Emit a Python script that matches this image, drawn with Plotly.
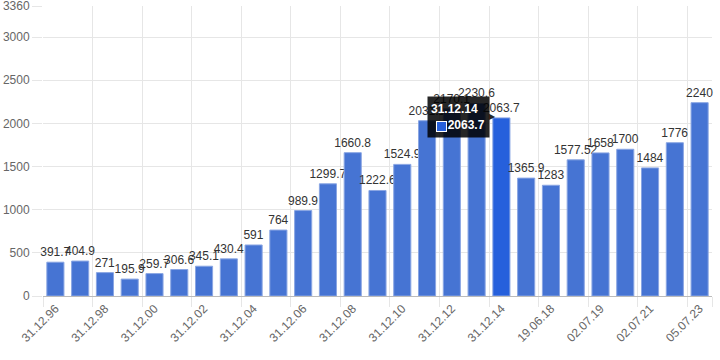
import plotly.graph_objects as go

categories = ["31.12.96", "31.12.97", "31.12.98", "31.12.99", "31.12.00", "31.12.01",
              "31.12.02", "31.12.03", "31.12.04", "31.12.05", "31.12.06", "31.12.07",
              "31.12.08", "31.12.09", "31.12.10", "31.12.11", "31.12.12", "31.12.13",
              "31.12.14", "31.12.16", "19.06.18", "31.12.18", "02.07.19", "02.07.20",
              "02.07.21", "02.07.22", "05.07.23"]
values = [391.7, 404.9, 271, 195.9, 259.7, 306.6, 345.1, 430.4, 591, 764, 989.9, 1299.7,
          1660.8, 1222.6, 1524.9, 2031.1, 2170.1, 2230.6, 2063.7, 1365.9, 1283, 1577.52,
          1658, 1700, 1484, 1776, 2240]
value_labels = ["391.7", "404.9", "271", "195.9", "259.7", "306.6", "345.1", "430.4", "591",
                "764", "989.9", "1299.7", "1660.8", "1222.6", "1524.9", "2031.1", "2170.1",
                "2230.6", "2063.7", "1365.9", "1283", "1577.52", "1658", "1700", "1484",
                "1776", "2240"]
y_ticks = [0, 500, 1000, 1500, 2000, 2500, 3000, 3360]
highlight_index = 18

idx = list(range(len(categories)))
base_color = "#4674d3"
hi_color = "#2660dc"
colors = [hi_color if i == highlight_index else base_color for i in idx]
FONT = "Liberation Sans, Arial, sans-serif"

fig = go.Figure()
fig.add_trace(go.Bar(
    x=idx, y=values,
    marker=dict(color=colors, line=dict(color="#8aa6e3", width=1)),
    text=value_labels, textposition="outside", constraintext="none",
    textfont=dict(family=FONT, size=12, color="#333333"),
    cliponaxis=False, hoverinfo="skip",
))

label_idx = idx[::2]
fig.update_layout(
    width=720, height=360,
    margin=dict(l=43, r=8, t=6, b=64, autoexpand=False),
    paper_bgcolor="white", plot_bgcolor="white",
    bargap=0.31, showlegend=False,
    font=dict(family=FONT, size=12, color="#666666"),
    xaxis=dict(
        range=[-0.5, len(categories) - 0.5], automargin=False,
        tickmode="array", tickvals=label_idx, ticktext=[categories[i] for i in label_idx],
        tickangle=-45, showgrid=False, ticks="", zeroline=False,
        showline=True, linecolor="#bbbbbb", linewidth=1,
        tickfont=dict(size=12, color="#666666"),
        minor=dict(tickmode="array", tickvals=[i - 0.5 for i in label_idx] + [len(categories) - 0.5],
                   showgrid=True, gridcolor="#e6e6e6", gridwidth=1,
                   ticks="outside", ticklen=10, tickcolor="#e6e6e6"),
    ),
    yaxis=dict(
        range=[0, 3360], automargin=False, tickmode="array", tickvals=y_ticks,
        showgrid=True, gridcolor="#e6e6e6", gridwidth=1, zeroline=False,
        ticks="outside", ticklen=10, tickcolor="#e6e6e6", ticklabeloverflow="allow",
        tickfont=dict(size=12, color="#666666"), showline=False,
    ),
)

# tooltip box
fig.add_annotation(
    x=highlight_index, y=values[highlight_index], xref="x", yref="y",
    xanchor="right", yanchor="middle", xshift=-11, yshift=1,
    showarrow=False, align="left", valign="middle", width=55, height=34,
    text=("<b>" + categories[highlight_index] + "</b><br>"
          + "\u00a0\u00a0\u00a0\u00a0\u00a0<b>" + value_labels[highlight_index] + "</b>"),
    font=dict(family=FONT, size=12, color="white"),
    bgcolor="rgba(0,0,0,0.85)", borderpad=3, bordercolor="rgba(0,0,0,0)",
)
# tooltip caret
fig.add_annotation(
    x=highlight_index, y=values[highlight_index], xref="x", yref="y",
    xanchor="center", yanchor="middle", xshift=-9, yshift=1,
    showarrow=False, text="▶", font=dict(family="DejaVu Sans", size=8, color="rgba(0,0,0,0.85)"),
)
# tooltip colour swatch
fig.add_annotation(
    x=highlight_index, y=values[highlight_index], xref="x", yref="y",
    xanchor="center", yanchor="middle", xshift=-60, yshift=-9,
    showarrow=False, text=" ", width=9, height=9, borderpad=0,
    font=dict(size=6), bgcolor=hi_color, bordercolor="white", borderwidth=1,
)

fig.write_html("out.html", config={"displayModeBar": False},
               post_script="document.body.style.margin='0';document.body.style.overflow='hidden';")
